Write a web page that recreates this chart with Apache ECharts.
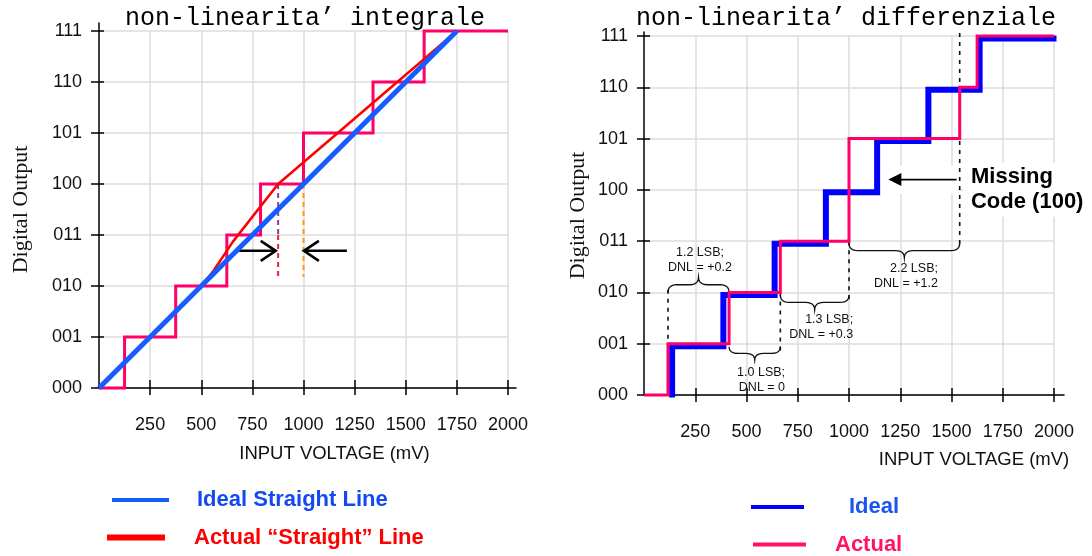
<!DOCTYPE html>
<html>
<head>
<meta charset="utf-8">
<script src="https://cdn.jsdelivr.net/npm/echarts@6/dist/echarts.min.js"></script>
<style>
  html, body { margin: 0; padding: 0; background: #fff; }
  #chart { width: 1092px; height: 556px; }
</style>
</head>
<body>
<div id="chart"></div>
<script>
// 3-bit output codes and input-voltage ticks (mV)
const codeLabels = ['000', '001', '010', '011', '100', '101', '110', '111'];
const voltageTicks = [250, 500, 750, 1000, 1250, 1500, 1750, 2000];

// ---- Integral non-linearity panel ----
const inlIdealLine = [[0, 0], [1750, 7]];
const inlActualLine = [[0, 0], [500, 2.0], [560, 2.3], [655, 2.87], [876, 4], [1750, 7]];
const inlStepEdges = [125, 375, 625, 790, 1000, 1340, 1590];   // code transitions (mV)
const inlStepCodes = [1, 2, 3, 4, 5, 6, 7];
const inlMarkers = [[876, 4, 3], [876, 3, 2.18], [1000, 4, 2.18]]; // [x, codeFrom, codeTo]
const inlArrows = [[665, 874, 2.69], [1212, 992, 2.69]];           // [xFrom, xTo, code]

// ---- Differential non-linearity panel ----
const dnlIdealEdges = [125, 375, 625, 875, 1125, 1375, 1625];
const dnlIdealCodes = [1, 2, 3, 4, 5, 6, 7];
const dnlActualEdges = [117, 415, 665, 1000, 1540, 1625];
const dnlActualCodes = [1, 2, 3, 5, 6, 7];
const dnlGuides = [[117, 2.05, 1.0], [665, 2.0, 0.78], [1000, 3.0, 1.85], [1540, 7.06, 2.92]];
const dnlBraces = [[117, 415, 2.0, 2.3], [415, 665, 0.94, 0.68], [665, 1000, 1.95, 1.66], [1000, 1540, 2.96, 2.67]];
const dnlNotes = [
  [273, 2.64, '1.2 LSB;\nDNL = +0.2'],
  [688, 0.30, '1.0 LSB;\nDNL = 0'],
  [1020, 1.32, '1.3 LSB;\nDNL = +0.3'],
  [1434, 2.31, '2.2 LSB;\nDNL = +1.2']
];
const missingArrow = [[1525, 1192, 4.2]];
const missingNote = [[1556, 4.0, 'Missing\nCode (100)']];

// Build staircase vertices from transition points
function staircase(edges, codes, startCode, xStart, xEnd) {
  const pts = [[xStart, startCode]];
  let cur = startCode;
  edges.forEach((x, i) => { pts.push([x, cur]); cur = codes[i]; pts.push([x, cur]); });
  pts.push([xEnd, cur]);
  return pts;
}

const SANS = 'Liberation Sans';
const tickStyle = { color: '#000', width: 1.5 };
const gridLine = { color: '#dddddd', width: 1.5 };
const noteAlign = ['center', 'right', 'right', 'right'];

function mainX(gi, nameShift, nameGap) {
  return {
    gridIndex: gi, type: 'value', min: 0, max: 2000, interval: 250, position: 'bottom',
    axisLine: { show: false, onZero: false },
    axisTick: { show: true, length: 7, customValues: voltageTicks, lineStyle: tickStyle },
    axisLabel: { customValues: voltageTicks, margin: 28, fontFamily: SANS, fontSize: 18, color: '#111',
                 formatter: v => (v === 0 ? '' : String(v)) },
    splitLine: { show: true, lineStyle: gridLine },
    name: 'INPUT VOLTAGE (mV)', nameLocation: 'middle', nameGap: nameGap, nameMoveOverlap: false,
    nameTextStyle: { fontFamily: SANS, fontSize: 18.5, color: '#111', lineHeight: 20, padding: [0, 0, 0, nameShift * 2] }
  };
}
function innerX(gi, len) {
  return {
    gridIndex: gi, type: 'value', min: 0, max: 2000, interval: 250, position: 'bottom',
    axisLine: { show: false, onZero: false },
    axisTick: { show: true, inside: true, length: len, customValues: voltageTicks, lineStyle: tickStyle },
    axisLabel: { show: false }, splitLine: { show: false }
  };
}
function mainY(gi, nameGap, labelMargin, tickLen) {
  return {
    gridIndex: gi, type: 'value', min: 0, max: 7, interval: 1, position: 'left',
    axisLine: { show: false, onZero: false },
    axisTick: { show: true, length: tickLen, lineStyle: tickStyle },
    axisLabel: { margin: labelMargin, fontFamily: SANS, fontSize: 18, color: '#111',
                 formatter: v => codeLabels[Math.round(v)] || '' },
    splitLine: { show: true, lineStyle: gridLine },
    name: 'Digital Output', nameLocation: 'middle', nameGap: nameGap, nameMoveOverlap: false,
    nameTextStyle: { fontFamily: 'Liberation Serif', fontSize: 22, color: '#111', lineHeight: 26 }
  };
}
function innerY(gi, len) {
  return {
    gridIndex: gi, type: 'value', min: 0, max: 7, interval: 1, position: 'left',
    axisLine: { show: false, onZero: false },
    axisTick: { show: true, inside: true, length: len, lineStyle: tickStyle },
    axisLabel: { show: false }, splitLine: { show: false }
  };
}
function frameAxis(gi, pos) {
  return {
    gridIndex: gi, type: 'value', min: 0, max: 1, position: pos,
    axisLine: { show: true, onZero: false, lineStyle: { color: '#000', width: 1.5 } },
    axisTick: { show: false }, axisLabel: { show: false }, splitLine: { show: false }
  };
}
function hiddenAxis(gi, max) {
  return { gridIndex: gi, type: 'value', min: 0, max: max, show: false };
}

// vertical dashed guide lines
function dashRender(colors, width, dash) {
  return function (params, api) {
    const a = api.coord([api.value(0), api.value(1)]);
    const b = api.coord([api.value(0), api.value(2)]);
    return {
      type: 'line', shape: { x1: a[0], y1: a[1], x2: b[0], y2: b[1] },
      style: { stroke: colors[params.dataIndex % colors.length], lineWidth: width, lineDash: dash, fill: 'none' }
    };
  };
}

// open chevron arrows
function chevronArrow(params, api) {
  const y = api.value(2);
  const a = api.coord([api.value(0), y]);
  const b = api.coord([api.value(1), y]);
  const dir = b[0] > a[0] ? 1 : -1;
  const tx = b[0] - dir * 2;
  return {
    type: 'group', children: [
      { type: 'line', shape: { x1: a[0], y1: a[1], x2: tx, y2: b[1] }, style: { stroke: '#000', lineWidth: 2.6 } },
      { type: 'polyline', shape: { points: [[tx - dir * 15, b[1] - 10], [tx, b[1]], [tx - dir * 15, b[1] + 10]] },
        style: { stroke: '#000', lineWidth: 2.6, fill: 'none', lineJoin: 'miter' } }
    ]
  };
}

function quad(p0, p1, p2, n, out) {
  for (let i = 1; i <= n; i++) {
    const t = i / n, u = 1 - t;
    out.push([u * u * p0[0] + 2 * u * t * p1[0] + t * t * p2[0], u * u * p0[1] + 2 * u * t * p1[1] + t * t * p2[1]]);
  }
}
function bracePoints(xa, xb, yEnd, yTip) {
  const xm = (xa + xb) / 2, q = (yEnd + yTip) / 2, r = Math.min(9, (xb - xa) / 4);
  const pts = [[xa, yEnd]];
  quad([xa, yEnd], [xa, q], [xa + r, q], 6, pts);
  pts.push([xm - r, q]);
  quad([xm - r, q], [xm, q], [xm, yTip], 6, pts);
  quad([xm, yTip], [xm, q], [xm + r, q], 6, pts);
  pts.push([xb - r, q]);
  quad([xb - r, q], [xb, q], [xb, yEnd], 6, pts);
  return pts;
}
function braceRender(params, api) {
  const x1 = api.value(0), x2 = api.value(1);
  const a = api.coord([x1, api.value(2)]);
  const b = api.coord([x2, api.value(2)]);
  const t = api.coord([(x1 + x2) / 2, api.value(3)]);
  return { type: 'polyline', shape: { points: bracePoints(a[0], b[0], a[1], t[1]) },
           style: { stroke: '#111', lineWidth: 1.3, fill: 'none' } };
}
function noteRender(params, api) {
  const p = api.coord([api.value(0), api.value(1)]);
  return {
    type: 'text', x: p[0], y: p[1],
    style: { text: dnlNotes[params.dataIndex][2], fill: '#111', fontFamily: SANS, fontSize: 12.5,
             lineHeight: 15, align: noteAlign[params.dataIndex], verticalAlign: 'middle' }
  };
}
function missingArrowRender(params, api) {
  const y = api.value(2);
  const a = api.coord([api.value(0), y]);
  const b = api.coord([api.value(1), y]);
  return {
    type: 'group', children: [
      { type: 'rect', shape: { x: b[0] - 8, y: b[1] - 14, width: a[0] - b[0] + 9, height: 28 },
        style: { fill: '#fff' } },
      { type: 'line', shape: { x1: a[0], y1: a[1], x2: b[0] + 12, y2: b[1] }, style: { stroke: '#000', lineWidth: 1.6 } },
      { type: 'polygon', shape: { points: [[b[0], b[1]], [b[0] + 13, b[1] - 6.5], [b[0] + 13, b[1] + 6.5]] },
        style: { fill: '#000' } }
    ]
  };
}
function missingNoteRender(params, api) {
  const p = api.coord([api.value(0), api.value(1)]);
  return {
    type: 'text', x: p[0], y: p[1],
    style: { text: missingNote[params.dataIndex][2], fill: '#000', fontFamily: SANS, fontSize: 22,
             fontWeight: 'bold', lineHeight: 25, align: 'left', verticalAlign: 'middle',
             backgroundColor: '#fff', padding: [2, 8, 2, 8] }
  };
}

const legendText = (color, padTop, padLeft) => ({
  color: color, fontFamily: SANS, fontSize: 22, fontWeight: 'bold', lineHeight: 24, padding: [padTop, 0, 0, padLeft]
});

const option = {
  animation: false,
  backgroundColor: '#fff',
  title: [
    { text: 'non-linearita’ integrale', left: 305, top: 5.5, textAlign: 'center', padding: 0,
      textStyle: { fontFamily: 'Liberation Mono', fontSize: 25, fontWeight: 'normal', color: '#000', lineHeight: 25 } },
    { text: 'non-linearita’ differenziale', left: 846, top: 5.5, textAlign: 'center', padding: 0,
      textStyle: { fontFamily: 'Liberation Mono', fontSize: 25, fontWeight: 'normal', color: '#000', lineHeight: 25 } }
  ],
  legend: [
    { data: ['Ideal Straight Line'], left: 112, top: 486, padding: 0, icon: 'rect', itemWidth: 57, itemHeight: 4,
      selectedMode: false, textStyle: legendText('#1449f2', 4, 23) },
    { data: ['Actual “Straight” Line'], left: 107, top: 524.5, padding: 0, icon: 'rect', itemWidth: 58, itemHeight: 6,
      selectedMode: false, textStyle: legendText('#ff0000', 2, 24) },
    { data: ['Ideal'], left: 751, top: 494, padding: 0, icon: 'rect', itemWidth: 53, itemHeight: 4,
      selectedMode: false, textStyle: legendText('#1a55f2', 2, 40) },
    { data: ['Actual'], left: 753, top: 531.5, padding: 0, icon: 'rect', itemWidth: 53, itemHeight: 4,
      selectedMode: false, textStyle: legendText('#ff1464', 2, 24) }
  ],
  grid: [
    { left: 99, top: 31, width: 409, height: 357, outerBoundsMode: 'none' },   // 0 INL plot
    { left: 99, top: 23, width: 417, height: 365, outerBoundsMode: 'none' },   // 1 INL axis frame
    { left: 644, top: 36, width: 410, height: 359, outerBoundsMode: 'none' },  // 2 DNL plot
    { left: 644, top: 32, width: 420, height: 363, outerBoundsMode: 'none' },  // 3 DNL axis frame
    { left: 646.5, top: 38.5, width: 410, height: 359, outerBoundsMode: 'none' } // 4 DNL ideal layer
  ],
  xAxis: [
    mainX(0, 31, 56), innerX(0, 8), frameAxis(1, 'bottom'),
    mainX(2, 125, 55), innerX(2, 7), frameAxis(3, 'bottom'),
    hiddenAxis(4, 2000)
  ],
  yAxis: [
    mainY(0, 65, 17, 8), innerY(0, 5), frameAxis(1, 'left'),
    mainY(2, 53, 16, 7), innerY(2, 6), frameAxis(3, 'left'),
    hiddenAxis(4, 7)
  ],
  series: [
    // ---- INL panel ----
    { name: 'Output codes', type: 'line', xAxisIndex: 0, yAxisIndex: 0, symbol: 'none', clip: false,
      data: staircase(inlStepEdges, inlStepCodes, 0, 0, 2000),
      lineStyle: { color: '#ff0066', width: 3, join: 'miter' }, itemStyle: { color: '#ff0066' } },
    { name: 'INL markers', type: 'custom', xAxisIndex: 0, yAxisIndex: 0, data: inlMarkers,
      renderItem: dashRender(['#8a3f95', '#ee1c3c', '#ff9a0a'], 2, [5, 4]) },
    { name: 'Actual “Straight” Line', type: 'line', xAxisIndex: 0, yAxisIndex: 0, symbol: 'none', clip: false,
      data: inlActualLine, lineStyle: { color: '#ff0000', width: 2.5 }, itemStyle: { color: '#ff0000' } },
    { name: 'Ideal Straight Line', type: 'line', xAxisIndex: 0, yAxisIndex: 0, symbol: 'none', clip: false,
      data: inlIdealLine, lineStyle: { color: '#165dff', width: 5 }, itemStyle: { color: '#165dff' } },
    { name: 'INL arrows', type: 'custom', xAxisIndex: 0, yAxisIndex: 0, data: inlArrows, renderItem: chevronArrow },

    // ---- DNL panel ----
    { name: 'Ideal', type: 'line', xAxisIndex: 6, yAxisIndex: 6, symbol: 'none', clip: false,
      data: staircase(dnlIdealEdges, dnlIdealCodes, 0, 125, 2000),
      lineStyle: { color: '#0000ff', width: 6, join: 'miter' }, itemStyle: { color: '#0000ff' } },
    { name: 'Missing arrow', type: 'custom', xAxisIndex: 3, yAxisIndex: 3, data: missingArrow, renderItem: missingArrowRender },
    { name: 'Missing note', type: 'custom', xAxisIndex: 3, yAxisIndex: 3,
      data: missingNote.map(d => [d[0], d[1]]), renderItem: missingNoteRender },
    { name: 'DNL guides', type: 'custom', xAxisIndex: 3, yAxisIndex: 3, data: dnlGuides,
      renderItem: dashRender(['#111'], 1.6, [4, 5]) },
    { name: 'Actual', type: 'line', xAxisIndex: 3, yAxisIndex: 3, symbol: 'none', clip: false,
      data: staircase(dnlActualEdges, dnlActualCodes, 0, 0, 2000),
      lineStyle: { color: '#ff0066', width: 3, join: 'miter' }, itemStyle: { color: '#ff1464' } },
    { name: 'DNL braces', type: 'custom', xAxisIndex: 3, yAxisIndex: 3, data: dnlBraces, renderItem: braceRender },
    { name: 'DNL notes', type: 'custom', xAxisIndex: 3, yAxisIndex: 3,
      data: dnlNotes.map(d => [d[0], d[1]]), renderItem: noteRender }
  ]
};

const chart = echarts.init(document.getElementById('chart'), null, { renderer: 'canvas' });
chart.setOption(option);
</script>
</body>
</html>
